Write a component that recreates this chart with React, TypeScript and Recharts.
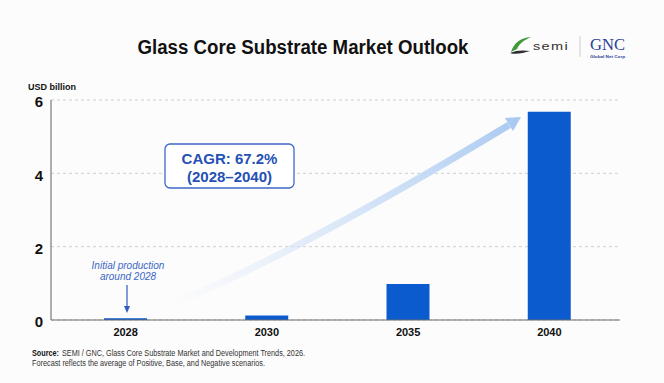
import { BarChart, Bar, XAxis, YAxis, CartesianGrid } from 'recharts'

const years = ['2028', '2030', '2035', '2040']
const marketSize = [0.05, 0.12, 0.98, 5.68]
const yTicks = [0, 2, 4, 6]

const data = years.map((year, i) => ({ year, value: marketSize[i] }))

const W = 664
const H = 383
const narrow = '"Liberation Sans Narrow", "Liberation Sans", Arial, sans-serif'
const sans = '"Liberation Sans", Arial, sans-serif'
const blueText = '#2451b3'

function Overlay() {
  return (
    <svg
      width={W}
      height={H}
      style={{ position: 'absolute', left: 0, top: 0, pointerEvents: 'none' }}
    >
      <defs>
        <linearGradient id="growth" gradientUnits="userSpaceOnUse" x1={170} y1={305} x2={520} y2={118}>
          <stop offset="0" stopColor="#dfe9f8" stopOpacity={0} />
          <stop offset="0.35" stopColor="#d3e3f7" stopOpacity={0.6} />
          <stop offset="1" stopColor="#a9c9f1" stopOpacity={1} />
        </linearGradient>
      </defs>

      {/* title */}
      <text x={303} y={54} textAnchor="middle" fontFamily={narrow} fontWeight="bold"
        fontSize={19.5} fill="#111" textLength={331} lengthAdjust="spacingAndGlyphs">
        Glass Core Substrate Market Outlook
      </text>

      {/* logos */}
      <path d="M511 52 C 514 43, 520 38, 531 37 C 524 40, 519 44, 517 49 Z" fill="#3f9a3c" />
      <path d="M510 53 C 516 50, 524 50, 530 51 C 523 53, 516 55, 510 53 Z" fill="#2d2d2d" />
      <text x={533} y={50} fontFamily={sans} fontSize={11} fill="#333" letterSpacing={1}
        textLength={36} lengthAdjust="spacingAndGlyphs">semi</text>
      <line x1={580} y1={36} x2={580} y2={57} stroke="#cfcfcf" strokeWidth={1} />
      <text x={590} y={49.5} fontFamily='"Liberation Serif", "DejaVu Serif", serif' fontSize={16}
        fill="#2b3f99" textLength={35} lengthAdjust="spacingAndGlyphs">GNC</text>
      <text x={590} y={57.5} fontFamily={sans} fontWeight="bold" fontSize={4} fill="#2b3f99"
        textLength={35} lengthAdjust="spacingAndGlyphs">Global Net Corp</text>

      {/* unit label */}
      <text x={28} y={90} fontFamily={narrow} fontWeight="bold" fontSize={9.5} fill="#111"
        textLength={48} lengthAdjust="spacingAndGlyphs">USD billion</text>

      {/* growth arrow */}
      <path d="M172 304 C 262 268, 385 200, 509 125" fill="none" stroke="url(#growth)"
        strokeWidth={7} strokeLinecap="butt" />
      <polygon points="521,117 505,118 513,131" fill="#a9c9f1" />

      {/* CAGR box */}
      <rect x={165} y={144} width={129} height={44} rx={5} fill="#fff" stroke="#3d68c9" strokeWidth={1.3} />
      <text x={229.5} y={163.5} textAnchor="middle" fontFamily={sans} fontWeight="bold" fontSize={15} fill={blueText}>
        CAGR: 67.2%
      </text>
      <text x={229.5} y={181.5} textAnchor="middle" fontFamily={sans} fontWeight="bold" fontSize={15} fill={blueText}>
        (2028–2040)
      </text>

      {/* initial production note */}
      <text x={128} y={269} textAnchor="middle" fontFamily={sans} fontStyle="italic" fontSize={10} fill="#3b66c6">
        Initial production
      </text>
      <text x={128} y={280} textAnchor="middle" fontFamily={sans} fontStyle="italic" fontSize={10} fill="#3b66c6">
        around 2028
      </text>
      <line x1={127} y1={285} x2={127} y2={307} stroke="#2f5cc0" strokeWidth={1.2} />
      <polygon points="127,313 124,306 130,306" fill="#2f5cc0" />

      {/* footnote */}
      <text x={32} y={355.5} fontFamily={sans} fontWeight="bold" fontSize={8.5} fill="#111"
        textLength={27} lengthAdjust="spacingAndGlyphs">Source:</text>
      <text x={62} y={355.5} fontFamily={sans} fontSize={8.5} fill="#333" textLength={243} lengthAdjust="spacingAndGlyphs">
        SEMI / GNC, Glass Core Substrate Market and Development Trends, 2026.
      </text>
      <text x={32} y={366} fontFamily={sans} fontSize={8.5} fill="#333" textLength={233} lengthAdjust="spacingAndGlyphs">
        Forecast reflects the average of Positive, Base, and Negative scenarios.
      </text>
    </svg>
  )
}

export default function App() {
  return (
    <div style={{ position: 'absolute', left: 0, top: 0, width: W, height: H, background: '#fcfcfc' }}>
      <BarChart
        width={W}
        height={H}
        data={data}
        margin={{ top: 100, right: 44, bottom: 33, left: 21 }}
      >
        <CartesianGrid vertical={false} stroke="#cfcfcf" strokeDasharray="3 3" />
        <XAxis
          dataKey="year"
          axisLine={{ stroke: '#6a6a6a', strokeWidth: 1.2 }}
          tickLine={false}
          padding={{ left: 4, right: 0 }}
          tick={{ fill: '#111', fontSize: 11, fontWeight: 'bold', fontFamily: sans }}
        />
        <YAxis
          width={30}
          domain={[0, 6]}
          ticks={yTicks}
          axisLine={{ stroke: '#7a7a7a', strokeWidth: 1.2 }}
          tickLine={false}
          tick={{ fill: '#111', fontSize: 15, fontWeight: 'bold', fontFamily: sans, dy: 2 }}
        />
        <Bar dataKey="value" fill="#0b5bcf" barSize={43} isAnimationActive={false} />
      </BarChart>
      <Overlay />
    </div>
  )
}
